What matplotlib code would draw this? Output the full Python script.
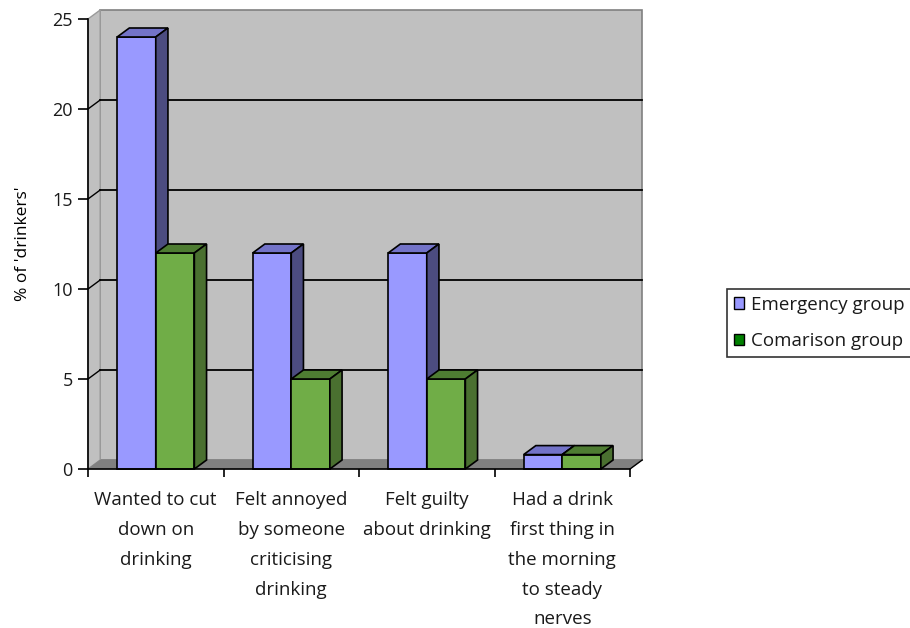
import matplotlib
matplotlib.use("Agg")
import matplotlib.pyplot as plt
from matplotlib.patches import Polygon, Rectangle
import numpy as np

plt.rcParams['font.family'] = ['Open Sans', 'DejaVu Sans']
plt.rcParams['text.color'] = '#1a1a1a'

categories = ['Wanted to cut\ndown on\ndrinking',
              'Felt annoyed\nby someone\ncriticising\ndrinking',
              'Felt guilty\nabout drinking',
              'Had a drink\nfirst thing in\nthe morning\nto steady\nnerves']
emergency = [24, 12, 12, 0.8]
comparison = [12, 5, 5, 0.8]
series_names = ['Emergency group', 'Comarison group']

# depth of the fake 3d box, in data units
dx, dy = 0.09, 0.5
bw = 0.285
ymax = 25

fig = plt.figure(figsize=(9.1, 6.28), dpi=100)
ax = fig.add_axes([88/910, 1-469/628, 542/910, 450/628])
ax.set_xlim(0, 4)
ax.set_ylim(0, ymax)

wall = '#C0C0C0'
# back wall, left wall, floor
ax.add_patch(Rectangle((dx, dy), 4, ymax, fc=wall, ec='#808080', lw=1.2, zorder=0, clip_on=False))
ax.add_patch(Polygon([(0, 0), (dx, dy), (dx, ymax+dy), (0, ymax)], closed=True,
                     fc=wall, ec='#9a9a9a', lw=1, zorder=0.5, clip_on=False))
ax.add_patch(Polygon([(0, 0), (4, 0), (4+dx, dy), (dx, dy)], closed=True,
                     fc='#808080', ec='#808080', lw=0.5, zorder=0.6, clip_on=False))

for v in range(5, ymax, 5):
    ax.plot([dx, 4+dx], [v+dy, v+dy], color='black', lw=1.3, zorder=1, clip_on=False)
    ax.plot([0, dx], [v, v+dy], color='black', lw=1, zorder=1, clip_on=False)


def bar3d(x0, h, front, top, side):
    ax.add_patch(Rectangle((x0, 0), bw, h, fc=front, ec='black', lw=1.2, zorder=3, clip_on=False))
    ax.add_patch(Polygon([(x0, h), (x0+bw, h), (x0+bw+dx, h+dy), (x0+dx, h+dy)], closed=True,
                         fc=top, ec='black', lw=1.2, zorder=3, clip_on=False))
    ax.add_patch(Polygon([(x0+bw, 0), (x0+bw+dx, dy), (x0+bw+dx, h+dy), (x0+bw, h)], closed=True,
                         fc=side, ec='black', lw=1.2, zorder=3, clip_on=False))


for i in range(len(categories)):
    c = i + 0.5
    bar3d(c - bw, emergency[i], '#9999FF', '#7373C8', '#4C4C80')
    bar3d(c, comparison[i], '#70AD47', '#4E7C32', '#4A7030')

# axes lines
for s in ['top', 'right']:
    ax.spines[s].set_visible(False)
ax.spines['left'].set_linewidth(1.2)
ax.spines['bottom'].set_linewidth(1.2)
ax.spines['left'].set_zorder(5)
ax.spines['bottom'].set_zorder(5)
ax.plot([4, 4+dx], [0, dy], color='black', lw=1, clip_on=False, zorder=5)

ax.set_yticks(range(0, ymax+1, 5))
ax.tick_params(axis='y', length=7, width=1.2, labelsize=13, pad=4, labelcolor='#1a1a1a')
ax.set_xticks(np.arange(4) + 0.5)
ax.set_xticklabels(categories, fontsize=13.5, va='top', color='#1a1a1a')
for t in ax.get_xticklabels():
    t.set_linespacing(1.84)
ax.set_xticks(range(5), minor=True)
ax.tick_params(axis='x', which='major', length=0, pad=16)
ax.tick_params(axis='x', which='minor', length=6, width=1.2)

ax.set_ylabel("% of 'drinkers'", fontsize=12.5, labelpad=15)

handles = [Rectangle((0, 0), 1, 1, fc='#9999FF', ec='black', lw=1),
           Rectangle((0, 0), 1, 1, fc='#008000', ec='black', lw=1)]
leg = fig.legend(handles, series_names, loc='upper left', bbox_to_anchor=(727/910, 1-289/628),
                 fontsize=13.5, frameon=True, fancybox=False, edgecolor='black',
                 handlelength=0.55, handleheight=0.55, handletextpad=0.4,
                 labelspacing=1.0, borderpad=0.35, borderaxespad=0)
leg.get_frame().set_linewidth(1.2)

fig.savefig('out.png', dpi=100)
